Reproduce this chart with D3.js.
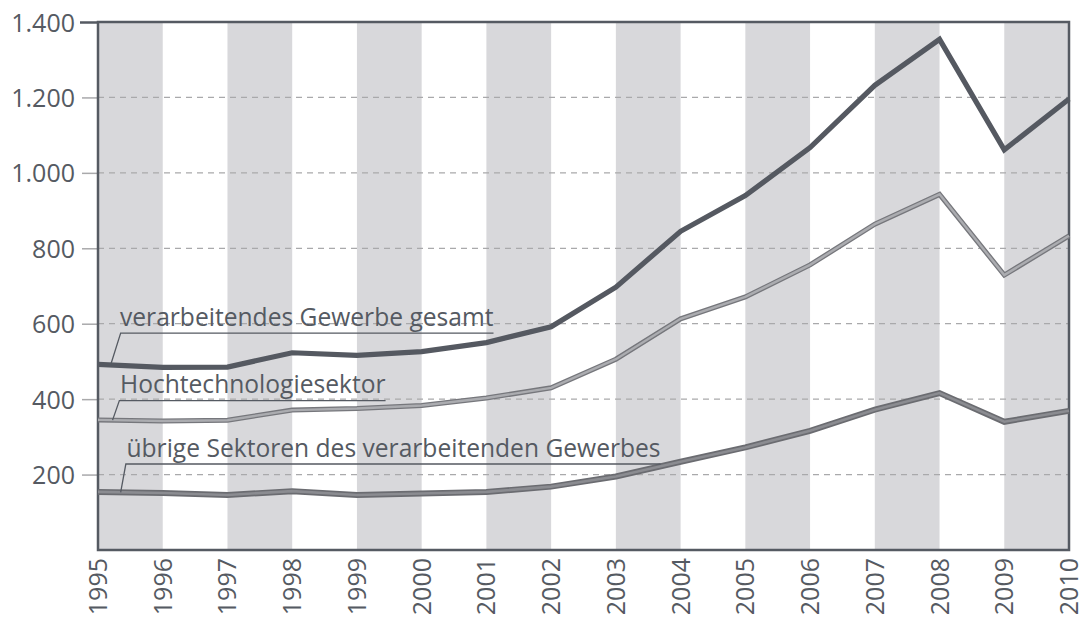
<!DOCTYPE html>
<html>
<head>
<meta charset="utf-8">
<script src="https://cdn.jsdelivr.net/npm/d3@7/dist/d3.min.js"></script>
<style>
  html, body { margin: 0; padding: 0; background: #fff; }
  svg { display: block; font-family: "Open Sans", sans-serif; }
</style>
</head>
<body>
<svg id="chart" width="1086" height="619"></svg>
<script>
// ---- data ----
const years = [1995,1996,1997,1998,1999,2000,2001,2002,2003,2004,2005,2006,2007,2008,2009,2010];
const gesamt = [492,484,485,523,516,526,550,592,697,845,940,1067,1232,1354,1061,1196];
const hochtech = [345,342,344,371,375,383,403,430,506,613,671,756,864,943,729,833];
const uebrige = [154,151,146,156,146,150,154,168,195,234,272,316,372,416,340,369];
const yTicks = [200,400,600,800,1000,1200,1400];
const labels = ["verarbeitendes Gewerbe gesamt", "Hochtechnologiesektor", "übrige Sektoren des verarbeitenden Gewerbes"];

// ---- layout ----
const W = 1086, H = 619;
const m = {left: 98, right: 17, top: 22, bottom: 69};
const svg = d3.select("#chart");
const x = d3.scaleLinear().domain([1995, 2010]).range([m.left, W - m.right]);
const y = d3.scaleLinear().domain([0, 1400]).range([H - m.bottom, m.top]);
const textCol = "#555a62";
const frameCol = "#555a62";
const fmt = d3.formatLocale({decimal: ",", thousands: ".", grouping: [3], currency: ["", "€"]}).format(",");

// background bands
const bandStarts = years.filter((d, i) => i % 2 === 0 && d < 2010);
svg.append("g").selectAll("rect").data(bandStarts).join("rect")
  .attr("x", d => x(d)).attr("width", d => x(d + 1) - x(d))
  .attr("y", y(1400)).attr("height", y(0) - y(1400))
  .attr("fill", "#d8d8db");

// gridlines
svg.append("g").selectAll("line").data(yTicks.filter(d => d < 1400)).join("line")
  .attr("x1", m.left).attr("x2", W - m.right)
  .attr("y1", d => y(d)).attr("y2", d => y(d))
  .attr("stroke", "#a9a9ab").attr("stroke-width", 1.3)
  .attr("stroke-dasharray", "6,5");

// left axis (ticks + labels)
const yAxis = d3.axisLeft(y).tickValues(yTicks).tickFormat(fmt).tickSize(16).tickPadding(7);
const gy = svg.append("g").attr("transform", `translate(${m.left},0)`).call(yAxis);
gy.select(".domain").remove();
gy.selectAll(".tick line").attr("stroke", "#a9a9ab").attr("stroke-width", 1.5);
gy.selectAll(".tick").filter(d => d === 1400).select("line").attr("stroke", frameCol).attr("stroke-width", 2.5).attr("x2", -18);
gy.selectAll(".tick text").attr("fill", textCol).attr("font-size", 25).attr("font-family", "Open Sans").attr("dy", "0.36em");

// frame
const frame = svg.append("g").attr("fill", "none").attr("stroke", frameCol).attr("stroke-width", 2.5);
frame.append("rect").attr("x", x(1995)).attr("y", y(1400))
  .attr("width", x(2010) - x(1995)).attr("height", y(0) - y(1400));

// x labels
svg.append("g").selectAll("text").data(years).join("text")
  .attr("transform", d => `translate(${x(d) + 9},${y(0) + 8}) rotate(-90)`)
  .attr("text-anchor", "end")
  .attr("fill", textCol).attr("font-size", 25)
  .text(d => d);

// lines
const line = d3.line().x((d, i) => x(years[i])).y(d => y(d));
const series = [
  {vals: uebrige, layers: [{c: "#6b6c71", w: 6}, {c: "#8b8c91", w: 2.6}]},
  {vals: hochtech, layers: [{c: "#76777c", w: 5}, {c: "#abacb0", w: 2.4}]},
  {vals: gesamt, layers: [{c: "#555961", w: 5.2}]}
];
series.forEach(s => {
  s.layers.forEach(l => {
    svg.append("path").datum(s.vals).attr("d", line)
      .attr("fill", "none").attr("stroke", l.c).attr("stroke-width", l.w)
      .attr("stroke-linejoin", "miter").attr("stroke-linecap", "butt");
  });
});

// annotations
const ann = [
  {text: labels[0], vals: gesamt, underV: 575, textX: 1995.34, topX: 1995.35, botX: 1995.195},
  {text: labels[1], vals: hochtech, underV: 396, textX: 1995.34, topX: 1995.33, botX: 1995.225},
  {text: labels[2], vals: uebrige, underV: 228, textX: 1995.44, topX: 1995.43, botX: 1995.35}
];
const interp = (vals, t) => {
  const i = Math.floor(t - 1995);
  const f = t - 1995 - i;
  return vals[i] * (1 - f) + vals[i + 1] * f;
};
ann.forEach(a => {
  const uy = y(a.underV);
  const t = svg.append("text")
    .attr("x", x(a.textX)).attr("y", uy - 7.5)
    .attr("fill", textCol).attr("font-size", 24.6)
    .text(a.text);
  const endX = x(a.textX) + t.node().getComputedTextLength();
  svg.append("polyline")
    .attr("points", [[x(a.botX), y(interp(a.vals, a.botX))], [x(a.topX), uy], [endX, uy]].map(p => p.join(",")).join(" "))
    .attr("fill", "none").attr("stroke", textCol).attr("stroke-width", 1.3);
});
</script>
</body>
</html>
